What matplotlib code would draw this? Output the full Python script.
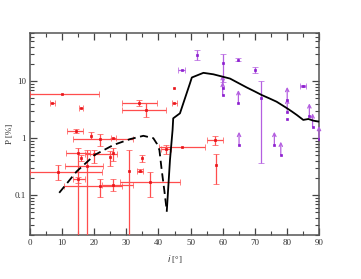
import numpy as np
import matplotlib
matplotlib.use("Agg")
import matplotlib.pyplot as plt
from matplotlib.ticker import MultipleLocator, FixedLocator, FixedFormatter, LogLocator, NullFormatter

nan = np.nan
# ---- red measurements: value and absolute error bounds (nan = no error bar)
red_x    = [10.1, 6.9, 15.9, 33.9, 36.0, 44.9, 44.9, 14.3, 19.0, 21.8, 26.0, 14.9, 15.9, 20.0, 17.7, 25.0, 26.0, 8.8, 15.0, 21.8, 26.0, 30.9, 34.3, 35.0, 37.4, 42.3, 47.2, 57.6, 57.9]
red_y    = [5.9, 4.1, 3.4, 4.1, 3.1, 7.5, 4.1, 1.32, 1.11, 0.97, 0.99, 0.55, 0.45, 0.53, 0.33, 0.46, 0.55, 0.26, 0.19, 0.143, 0.153, 0.27, 0.27, 0.44, 0.17, 0.65, 0.70, 0.91, 0.34]
red_xlo  = [0.0, 6.1, 15.2, 28.6, 28.6, nan, 44.1, 11.6, nan, 13.5, 25.2, 11.1, nan, 17.1, 10.9, nan, nan, 0.0, 13.5, 10.5, 22.3, nan, 33.4, nan, 28.0, 40.7, 40.3, 55.0, nan]
red_xhi  = [21.5, 7.7, 16.6, 39.5, 42.3, nan, 45.7, 16.6, nan, 32.2, 26.8, 18.7, nan, 27.0, 22.8, nan, nan, 22.3, 17.1, 28.5, 32.2, nan, 35.2, nan, 46.7, 43.9, 54.5, 60.0, nan]
red_ylo  = [nan, nan, nan, 3.66, 2.38, nan, nan, 1.22, 0.97, 0.74, 0.96, 0.01, 0.40, 0.37, 0.01, 0.32, 0.40, 0.185, 0.165, 0.092, 0.12, 0.01, 0.25, 0.38, 0.092, 0.52, nan, 0.76, 0.154]
red_yhi  = [nan, nan, nan, 4.66, 4.08, nan, nan, 1.42, 1.27, 1.17, 1.02, 0.67, 0.50, 0.61, 0.61, 0.59, 0.67, 0.34, 0.21, 0.19, 0.19, 0.61, 0.29, 0.51, 0.25, 0.76, nan, 1.10, 0.53]

# ---- purple measurements with error bars
pur_x   = [47.2, 52.1, 60.0, 64.9, 70.1, 72.0, 84.9, 80.1]
pur_y   = [15.6, 28.5, 20.9, 23.9, 15.6, 5.1, 8.2, 2.2]
pur_xlo = [46.2, nan, nan, nan, nan, nan, 84.0, nan]
pur_xhi = [48.2, nan, nan, nan, nan, nan, 85.8, nan]
pur_ylo = [nan, 23.2, 9.7, 22.5, 14.0, 0.36, 7.8, nan]
pur_yhi = [nan, 34.6, 30.4, 25.5, 17.8, 10.0, 8.6, nan]

# ---- purple lower limits (arrows)
lim_x = [60.0, 60.0, 64.9, 65.1, 76.1, 78.1, 80.1, 80.1, 87.0, 88.0, 90.0]
lim_y = [7.5, 5.7, 4.1, 0.76, 0.76, 0.51, 4.66, 2.9, 2.4, 1.6, 0.96]

# ---- model curves
dash_x = [9.1, 14.5, 20.2, 26.0, 31.1, 35.3, 38.4, 39.5, 40.3, 41.0, 41.8, 42.6]
dash_y = [0.11, 0.26, 0.51, 0.76, 0.96, 1.10, 1.0, 0.80, 0.62, 0.28, 0.125, 0.053]
solid_x = [42.6, 43.6, 44.4, 44.6, 46.7, 49.8, 50.4, 54.0, 57.1, 62.3, 67.5, 70.0, 72.2, 74.5, 76.8, 78.5, 80.1, 81.5, 83.1, 85.1, 86.7, 88.2, 90.0]
solid_y = [0.053, 0.42, 1.39, 2.23, 2.73, 9.1, 11.6, 14.0, 13.2, 11.1, 7.75, 6.6, 5.7, 5.0, 4.36, 3.8, 3.33, 2.95, 2.55, 2.09, 2.17, 2.03, 1.95]

xticks = [0, 10, 20, 30, 40, 50, 60, 70, 80, 90]
yticks = [0.1, 1, 10]
ytick_labels = ["0.1", "1", "10"]

plt.rcParams['font.family'] = ['Liberation Serif', 'DejaVu Serif']
fig = plt.figure(figsize=(3.61, 2.79), dpi=100)
ax = fig.add_axes([30/361, 1-235/279, 289/361, 202/279])
ax.set_yscale('log')


def draw_err(xs, ys, xlo, xhi, ylo, yhi, pcol, ecol):
    for i in range(len(xs)):
        xe = None if np.isnan(xlo[i]) else [[xs[i] - xlo[i]], [xhi[i] - xs[i]]]
        ye = None if np.isnan(ylo[i]) else [[ys[i] - ylo[i]], [yhi[i] - ys[i]]]
        ax.errorbar([xs[i]], [ys[i]], xerr=xe, yerr=ye, fmt='s', ms=1.6,
                    mfc=pcol, mec=pcol, mew=0.5, ecolor=ecol, elinewidth=0.9,
                    capsize=2.5, capthick=0.9, zorder=3)


draw_err(red_x, red_y, red_xlo, red_xhi, red_ylo, red_yhi, '#e8141a', '#ff4d4d')
draw_err(pur_x, pur_y, pur_xlo, pur_xhi, pur_ylo, pur_yhi, '#8d1fd0', '#b45fe0')

for x, y in zip(lim_x, lim_y):
    ax.annotate('', xy=(x, y * 1.7), xytext=(x, y),
                arrowprops=dict(arrowstyle='->', color='#b45fe0', lw=0.9,
                                shrinkA=0, shrinkB=0, mutation_scale=6),
                zorder=3)
ax.plot(lim_x, lim_y, 's', ms=1.6, mew=0.5, color='#8d1fd0', zorder=4)

ax.plot(dash_x, dash_y, color='black', lw=1.3, ls=(0, (4.5, 2.5)), zorder=5)
ax.plot(solid_x, solid_y, color='black', lw=1.3, zorder=5)

ax.set_xlim(0, 90)
ax.set_ylim(0.02, 70)
ax.xaxis.set_major_locator(FixedLocator(xticks))
ax.xaxis.set_minor_locator(MultipleLocator(5))
ax.yaxis.set_major_locator(FixedLocator(yticks))
ax.yaxis.set_major_formatter(FixedFormatter(ytick_labels))
ax.yaxis.set_minor_locator(LogLocator(base=10, subs=np.arange(2, 10)))
ax.yaxis.set_minor_formatter(NullFormatter())
ax.tick_params(which='both', direction='in', top=True, right=True,
               labelsize=6.5, colors='#444444', labelcolor='#333333')
ax.tick_params(which='major', length=5, width=0.9, pad=3)
ax.tick_params(which='minor', length=3, width=0.8)
for s in ax.spines.values():
    s.set_color('#555555')
    s.set_linewidth(1.1)

ax.set_xlabel(r'$i$ [°]', fontsize=6.5, color='#333333', labelpad=4)
ax.set_ylabel('P [%]', fontsize=6.5, color='#333333')
ax.yaxis.set_label_coords(-0.055, 0.5)

fig.savefig('out.png', dpi=100)
